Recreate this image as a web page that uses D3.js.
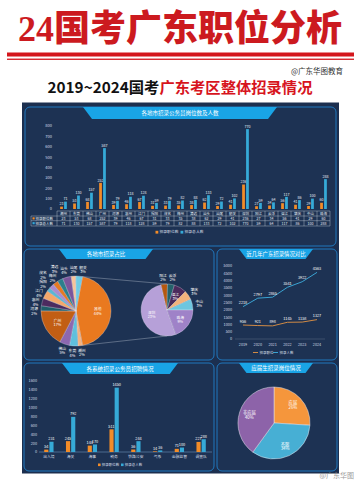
<!DOCTYPE html>
<html><head><meta charset="utf-8">
<script src="https://cdn.jsdelivr.net/npm/d3@7"></script>
<style>body{margin:0;background:#fff}svg{display:block}</style>
</head><body><svg id="c" width="360" height="481"></svg>
<script>
// ---------- DATA ----------
const cities=["潮州","东莞","佛山","广州","河源","惠州","江门","揭阳","茂名","梅州","清远","汕头","汕尾","韶关","深圳","阳江","云浮","湛江","肇庆","中山","珠海"];
const positions=[23,53,68,252,39,46,67,31,33,35,38,62,29,41,236,27,34,56,41,29,60];
const people=[71,130,157,587,79,118,128,59,79,82,88,133,72,102,770,59,64,117,86,100,288];
const topTicks=[0,100,200,300,400,500,600,700,800];
const years=["2019","2020","2021","2022","2023","2024"];
const yearPositions=[956,921,898,1145,1158,1327];
const yearPeople=[2218,2797,2865,3541,3922,4563];
const lineTicks=[0,500,1000,1500,2000,2500,3000,3500,4000,4500,5000];
const systems=["出入境","海关","海事","税务","铁路公安","气象","金融监管","调查队"];
const sysPositions=[54,245,144,511,56,14,71,227];
const sysPeople=[231,792,170,1450,244,36,100,288];
const sysTicks=[0,200,400,600,800,1000,1200,1400,1600];
const freshLabels=["应届","不限","非应届"];
const freshShare=[26,34,40];

// ---------- STYLE ----------
const F='"Noto Sans CJK SC","Noto Sans",sans-serif';
const ORANGE="#f28c28", BLUE="#36aad7", TXT="#d5dee8", TAB="#19a4e6", BORDER="#2079bf";
const svg=d3.select("#c").attr("font-family",F);
svg.append("rect").attr("width",360).attr("height",481).attr("fill","#fff");

// header
svg.append("text").attr("x",180).attr("y",41).attr("text-anchor","middle")
  .attr("font-family",'"Liberation Serif","Noto Sans CJK SC",serif').attr("font-weight",900)
  .attr("font-size",36).attr("fill","#cc1a1f").attr("textLength",324).attr("lengthAdjust","spacingAndGlyphs")
  .text("24国考广东职位分析");
svg.append("rect").attr("x",7).attr("y",52.5).attr("width",347).attr("height",4).attr("fill","#d4161c");
svg.append("rect").attr("x",7).attr("y",58.6).attr("width",347).attr("height",1.3).attr("fill","#d4161c");
svg.append("text").attr("x",343).attr("y",73.5).attr("text-anchor","end").attr("font-size",7.5).attr("fill","#333").text("@广东华图教育");
const st=svg.append("text").attr("x",180).attr("y",92.5).attr("text-anchor","middle").attr("font-size",15)
  .attr("font-weight",700).attr("textLength",265).attr("lengthAdjust","spacingAndGlyphs");
st.append("tspan").attr("fill","#111").text("2019~2024国考");
st.append("tspan").attr("fill","#d7141d").text("广东考区整体招录情况");

// dark board
svg.append("rect").attr("x",22).attr("y",102.5).attr("width",317).attr("height",371).attr("fill","#1c2f4f");

function panel(x,y,w,h){
  svg.append("rect").attr("x",x).attr("y",y).attr("width",w).attr("height",h).attr("rx",5)
    .attr("fill","#1d3253").attr("stroke",BORDER).attr("stroke-width",1);
}
function tab(cx,y,wTop,h,text,fs){
  const s=h*0.75;
  svg.append("path").attr("d",`M${cx-wTop/2},${y}L${cx+wTop/2},${y}L${cx+wTop/2-s},${y+h}L${cx-wTop/2+s},${y+h}Z`).attr("fill",TAB);
  svg.append("text").attr("x",cx).attr("y",y+h/2+fs*0.36).attr("text-anchor","middle").attr("font-size",fs)
    .attr("fill","#fff").text(text);
}
panel(25,107,311,139);
panel(24,249,190,111);
panel(217,249,120,111);
panel(24,363,190,108);
panel(217,363,120,108);
tab(180,107,194,12,"各地市招录公务员岗位数及人数",5.5);
tab(106,249,94,10,"各地市招录占比",5.5);
tab(276,249,74,10,"近几年广东招录情况对比",5.4);
tab(120,363,116,11,"各系统招录公务员招聘情况",5.6);
tab(276,363,74,10,"应届生招录岗位情况",5.5);

function lab(x,y,t,fs,anchor,fill){
  return svg.append("text").attr("x",x).attr("y",y).attr("text-anchor",anchor||"middle")
    .attr("font-size",fs).attr("fill",fill||TXT).text(t);
}

// ---------- TOP BAR CHART ----------
const x1=d3.scaleBand().domain(cities).range([57,330]);
const y1=d3.scaleLinear().domain([0,800]).range([209,126]);
const s1=d3.scaleBand().domain(["p","n"]).range([0,x1.bandwidth()]).paddingInner(0.3).paddingOuter(0.8);
topTicks.forEach(t=>lab(52,y1(t)+1.4,t,4,"end"));
cities.forEach((c,i)=>{
  const bx=x1(c);
  [[positions[i],"p",ORANGE],[people[i],"n",BLUE]].forEach(([v,k,col])=>{
    svg.append("rect").attr("x",bx+s1(k)).attr("y",y1(v)).attr("width",s1.bandwidth()).attr("height",y1(0)-y1(v)).attr("fill",col);
    lab(bx+s1(k)+s1.bandwidth()/2,y1(v)-1.3,v,3.6,"middle","#e8eef5");
  });
});
// table
const rowY=[211,216,220.7,226];
const tg=svg.append("g").attr("stroke","#c9d3de").attr("stroke-width",0.4);
tg.append("line").attr("x1",57).attr("x2",330).attr("y1",rowY[0]).attr("y2",rowY[0]);
[1,2,3].forEach(r=>tg.append("line").attr("x1",31).attr("x2",330).attr("y1",rowY[r]).attr("y2",rowY[r]));
tg.append("line").attr("x1",31).attr("x2",31).attr("y1",rowY[1]).attr("y2",rowY[3]);
cities.forEach(c=>tg.append("line").attr("x1",x1(c)).attr("x2",x1(c)).attr("y1",rowY[0]).attr("y2",rowY[3]));
tg.append("line").attr("x1",330).attr("x2",330).attr("y1",rowY[0]).attr("y2",rowY[3]);
cities.forEach((c,i)=>{
  const cx=x1(c)+x1.bandwidth()/2;
  lab(cx,214.8,c,3.5,"middle","#e8eef5");
  lab(cx,219.7,positions[i],3.5,"middle","#e8eef5");
  lab(cx,224.6,people[i],3.5,"middle","#e8eef5");
});
svg.append("rect").attr("x",32.5).attr("y",217.3).attr("width",2.2).attr("height",2.2).attr("fill",ORANGE);
lab(35.5,219.7,"招录职位数",3.5,"start","#e8eef5");
svg.append("rect").attr("x",32.5).attr("y",222.1).attr("width",2.2).attr("height",2.2).attr("fill",BLUE);
lab(35.5,224.6,"招录总人数",3.5,"start","#e8eef5");
svg.append("rect").attr("x",155.5).attr("y",230.8).attr("width",2.8).attr("height",2.8).attr("fill",ORANGE);
lab(159.5,233.4,"招录职位数",3.8,"start");
svg.append("rect").attr("x",180.5).attr("y",230.8).attr("width",2.8).attr("height",2.8).attr("fill",BLUE);
lab(184.5,233.4,"招录总人数",3.8,"start");

// ---------- PIE OF PIE ----------
const total=d3.sum(people);
const nMain=14;
const otherVal=d3.sum(people.slice(nMain));
const mainData=[{name:"其他",v:otherVal}].concat(cities.slice(0,nMain).map((n,i)=>({name:n,v:people[i]})));
const mainColors=["#e9791f","#f6b27e","#5fc0dd","#8d68b0","#c25e14","#1f5e69","#4c2b5f","#f4a76a","#59b7d4","#a98bcf","#e57a24","#2b7f8c","#7a569c","#f7c39a","#6fcbe4"];
const otherAng=otherVal/total*2*Math.PI;
const sA=Math.PI/2-otherAng/2;
const mc=[76,311], mr=35;
const mainArcs=d3.pie().value(d=>d.v).sort(null).startAngle(sA).endAngle(sA+2*Math.PI)(mainData);
const arcM=d3.arc().innerRadius(0).outerRadius(mr);
const gM=svg.append("g").attr("transform",`translate(${mc})`);
gM.selectAll("path").data(mainArcs).join("path").attr("d",arcM).attr("fill",(d,i)=>mainColors[i]).attr("stroke","#e8e8f0").attr("stroke-width",0.3);

function pieLabels(g,arcs,r,total,c,xMin,xMax){
  const FS=3.8, LH=4.3, W=9.5, H=9;
  const outside=[];
  arcs.forEach(d=>{
    const span=d.endAngle-d.startAngle, a=(d.startAngle+d.endAngle)/2;
    const txt=[d.data.name,Math.round(d.data.v/total*100)+"%"];
    if(span>0.45){
      const rr=r*0.62;
      outside.push({x:Math.sin(a)*rr,y:-Math.cos(a)*rr,txt,fixed:true});
    } else {
      const rr=r+7;
      outside.push({x:Math.sin(a)*rr,y:-Math.cos(a)*rr,txt,fixed:false});
    }
  });
  const free=outside.filter(o=>!o.fixed);
  for(let it=0;it<400;it++){
    let moved=false;
    for(let i=0;i<free.length;i++)for(let j=i+1;j<free.length;j++){
      const a=free[i],b=free[j];
      const ox=W-Math.abs(a.x-b.x), oy=H-Math.abs(a.y-b.y);
      if(ox>0&&oy>0){
        moved=true;
        if(oy<=ox*1.3){const s=(a.y<b.y?-1:1)*oy*0.26;a.y+=s;b.y-=s;}
        else{const s=(a.x<b.x?-1:1)*ox*0.26;a.x+=s;b.x-=s;}
      }
    }
    free.forEach(a=>{
      const d=Math.hypot(a.x,a.y), m=r+5.5;
      if(d<m){a.x*=m/d;a.y*=m/d;}
      a.x=Math.max(xMin-c[0],Math.min(xMax-c[0],a.x));
    });
    if(!moved)break;
  }
  outside.forEach(o=>{
    const t=g.append("text").attr("text-anchor","middle").attr("font-size",FS).attr("fill","#fff");
    t.append("tspan").attr("x",o.x).attr("y",o.y-0.6).text(o.txt[0]);
    t.append("tspan").attr("x",o.x).attr("y",o.y-0.6+LH).text(o.txt[1]);
  });
}
pieLabels(gM,mainArcs,mr,total,mc,31,205);

const secData=cities.slice(nMain).map((n,i)=>({name:n,v:people[nMain+i]}));
const secColors=["#b6a0d8","#b5570f","#23626b","#4b2a5c","#f2b27c","#6dc6df","#9f82c8"];
const sc=[167,310], sr=26;
const secStart=160/180*Math.PI;
const secArcs=d3.pie().value(d=>d.v).sort(null).startAngle(secStart).endAngle(secStart+2*Math.PI)(secData);
const gS=svg.append("g").attr("transform",`translate(${sc})`);
gS.selectAll("path").data(secArcs).join("path").attr("d",d3.arc().innerRadius(0).outerRadius(sr)).attr("fill",(d,i)=>secColors[i]).attr("stroke","#e8e8f0").attr("stroke-width",0.3);
pieLabels(gS,secArcs,sr,total,sc,120,207);
// connectors
const p1=[mc[0]+Math.sin(sA)*mr, mc[1]-Math.cos(sA)*mr];
const p2=[mc[0]+Math.sin(sA+otherAng)*mr, mc[1]-Math.cos(sA+otherAng)*mr];
svg.append("line").attr("x1",p1[0]).attr("y1",p1[1]).attr("x2",sc[0]).attr("y2",sc[1]-sr).attr("stroke","#9aa7b8").attr("stroke-width",0.5);
svg.append("line").attr("x1",p2[0]).attr("y1",p2[1]).attr("x2",sc[0]).attr("y2",sc[1]+sr).attr("stroke","#9aa7b8").attr("stroke-width",0.5);

// ---------- LINE CHART ----------
const x3=d3.scalePoint().domain(years).range([243,317]);
const y3=d3.scaleLinear().domain([0,5000]).range([339,266]);
lineTicks.forEach(t=>lab(232,y3(t)+1.4,t,3.8,"end"));
svg.append("line").attr("x1",235).attr("x2",325).attr("y1",y3(0)).attr("y2",y3(0)).attr("stroke","#6b7c93").attr("stroke-width",0.4);
years.forEach(y=>lab(x3(y),345.5,y,3.8));
const ln=d3.line().x((d,i)=>x3(years[i])).y(d=>y3(d));
svg.append("path").attr("d",ln(yearPositions)).attr("fill","none").attr("stroke","#d08a45").attr("stroke-width",1);
svg.append("path").attr("d",ln(yearPeople)).attr("fill","none").attr("stroke","#3aa3d2").attr("stroke-width",1);
yearPositions.forEach((v,i)=>lab(x3(years[i]),y3(v)-2.5,v,3.8,"middle","#fff"));
yearPeople.forEach((v,i)=>lab(x3(years[i]),y3(v)-2.5,v,3.8,"middle","#fff"));
svg.append("line").attr("x1",253).attr("x2",258).attr("y1",352.5).attr("y2",352.5).attr("stroke","#d08a45").attr("stroke-width",1);
lab(259.5,353.8,"招录职位",3.5,"start");
svg.append("line").attr("x1",273).attr("x2",278).attr("y1",352.5).attr("y2",352.5).attr("stroke","#3aa3d2").attr("stroke-width",1);
lab(279.5,353.8,"招录人数",3.5,"start");

// ---------- BOTTOM BAR CHART ----------
const x4=d3.scaleBand().domain(systems).range([38,212]);
const y4=d3.scaleLinear().domain([0,1600]).range([452,381]);
const s4=d3.scaleBand().domain(["p","n"]).range([0,x4.bandwidth()]).paddingInner(0.2).paddingOuter(1.2);
sysTicks.forEach(t=>lab(37,y4(t)+1.4,t,3.8,"end"));
svg.append("line").attr("x1",39).attr("x2",212).attr("y1",y4(0)).attr("y2",y4(0)).attr("stroke","#7fa7cf").attr("stroke-width",0.5);
systems.forEach((c,i)=>{
  const bx=x4(c);
  [[sysPositions[i],"p",ORANGE],[sysPeople[i],"n",BLUE]].forEach(([v,k,col])=>{
    svg.append("rect").attr("x",bx+s4(k)).attr("y",y4(v)).attr("width",s4.bandwidth()).attr("height",y4(0)-y4(v)).attr("fill",col);
    lab(bx+s4(k)+s4.bandwidth()/2,y4(v)-1.5,v,3.8,"middle","#fff");
  });
  lab(bx+x4.bandwidth()/2,458,c,3.8);
});
svg.append("rect").attr("x",98).attr("y",463.5).attr("width",2.6).attr("height",2.6).attr("fill",ORANGE);
lab(101.8,466,"招录职位数",3.5,"start");
svg.append("rect").attr("x",121).attr("y",463.5).attr("width",2.6).attr("height",2.6).attr("fill",BLUE);
lab(124.8,466,"招录总人数",3.5,"start");

// ---------- BOTTOM PIE ----------
const fc=[274,423], fr=36;
const fColors=["#f5963c","#47afd4","#8d63a9"];
const fArcs=d3.pie().sort(null)(freshShare);
const gF=svg.append("g").attr("transform",`translate(${fc})`);
gF.selectAll("path").data(fArcs).join("path").attr("d",d3.arc().innerRadius(0).outerRadius(fr)).attr("fill",(d,i)=>fColors[i]).attr("stroke","#e6e6ee").attr("stroke-width",0.5);
fArcs.forEach((d,i)=>{
  const a=(d.startAngle+d.endAngle)/2, rr=fr*0.72;
  const t=gF.append("text").attr("text-anchor","middle").attr("font-size",4.3).attr("fill","#fff");
  t.append("tspan").attr("x",Math.sin(a)*rr).attr("y",-Math.cos(a)*rr-0.8).text(freshLabels[i]);
  t.append("tspan").attr("x",Math.sin(a)*rr).attr("y",-Math.cos(a)*rr+4).text(freshShare[i]+"%");
});

svg.append("text").attr("x",354).attr("y",478).attr("text-anchor","end").attr("font-size",7).attr("fill","#8a8a8a").attr("opacity",0.85).text("@广东华图");
</script></body></html>
